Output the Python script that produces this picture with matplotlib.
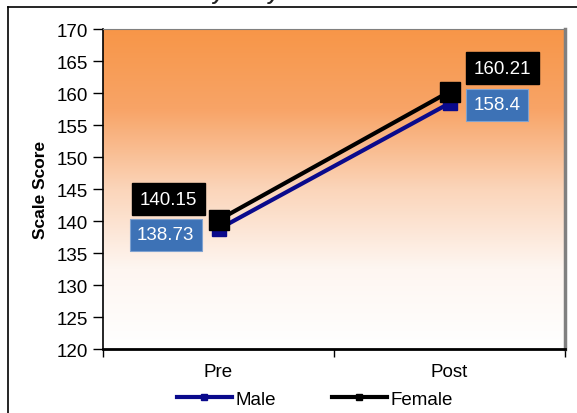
import numpy as np
import matplotlib.pyplot as plt
from matplotlib.colors import LinearSegmentedColormap
from matplotlib.lines import Line2D

plt.rcParams['font.family'] = ['Liberation Sans', 'DejaVu Sans']

# chart data
phases = ['Pre', 'Post']
male_scores = [138.73, 158.4]
female_scores = [140.15, 160.21]
y_ticks = list(range(120, 175, 5))

# label offsets (points) for the value boxes
male_offsets = [(-38, -4), (34, -1)]
female_offsets = [(-36, 15), (38, 17)]

navy = '#0A0A8C'
label_blue = '#3D72B6'

fig = plt.figure(figsize=(5.77, 4.14), dpi=100)

# outer chart frame (only the left and top edges fall inside the image)
fx, fy = 7.5 / 577, 1 - 8 / 414
fig.add_artist(Line2D([fx, fx], [0, fy], transform=fig.transFigure,
                      color='black', linewidth=1.2))
fig.add_artist(Line2D([fx, 1], [fy, fy], transform=fig.transFigure,
                      color='black', linewidth=1.2))

fig.text(0.02, 1.012, 'Gender Pre-Post Analysis by Subtest', fontsize=14,
         fontweight='bold', fontstyle='italic', va='center', ha='left',
         color='#222222')

ax = fig.add_axes([103 / 577, 1 - 350 / 414, 462 / 577, 320 / 414])
ax.set_xlim(0, 2)
ax.set_ylim(120, 170)

# orange-to-white background gradient
grad_cmap = LinearSegmentedColormap.from_list(
    'bg', ['#FFFFFF', '#FEF6F1', '#FBD5BA', '#F8A467', '#F79648'])
grad = np.linspace(0, 1, 256).reshape(-1, 1)
ax.imshow(grad, cmap=grad_cmap, extent=(0, 2, 120, 170), origin='lower',
          aspect='auto', zorder=0)

x = np.arange(len(phases)) + 0.5
ax.plot(x, male_scores, color=navy, linewidth=3, marker='s', markersize=10,
        zorder=3, label='Male')
ax.plot(x, female_scores, color='black', linewidth=3, marker='s',
        markersize=14, zorder=4, label='Female')

for xi, val, off in zip(x, male_scores, male_offsets):
    ax.annotate(f'{val:g}', (xi, val), xytext=off, textcoords='offset points',
                ha='center', va='center', fontsize=13.5, color='white',
                zorder=5,
                bbox=dict(boxstyle='square,pad=0.4', facecolor=label_blue,
                          edgecolor='#7FA2D0', linewidth=0.8))
for xi, val, off in zip(x, female_scores, female_offsets):
    ax.annotate(f'{val:.2f}', (xi, val), xytext=off, textcoords='offset points',
                ha='center', va='center', fontsize=13.5, color='white',
                zorder=6,
                bbox=dict(boxstyle='square,pad=0.4', facecolor='black',
                          edgecolor='black'))

ax.set_yticks(y_ticks)
ax.set_yticklabels([str(t) for t in y_ticks], fontsize=13.5)
ax.set_xticks([0, 1, 2])
ax.set_xticklabels([])
ax.set_xticks(x, minor=True)
ax.set_xticklabels(phases, minor=True, fontsize=13.5)
ax.tick_params(axis='x', which='minor', length=0, pad=10)
ax.tick_params(axis='x', which='major', direction='out', length=6, width=1)
ax.tick_params(axis='y', direction='out', length=7, width=1, pad=4)

ax.spines['left'].set_linewidth(1.2)
ax.spines['bottom'].set_linewidth(2)
ax.spines['top'].set_color('#808080')
ax.spines['right'].set_color('#808080')
ax.spines['right'].set_linewidth(2.5)

ax.set_ylabel('Scale Score', fontsize=12.5, fontweight='bold', labelpad=6)

handles = [
    Line2D([], [], color=navy, linewidth=3, marker='s', markersize=5),
    Line2D([], [], color='black', linewidth=3, marker='s', markersize=5),
]
fig.legend(handles, ['Male', 'Female'], loc='center',
           bbox_to_anchor=(315 / 577, 1 - 400 / 414), ncol=2, frameon=False,
           fontsize=13.5, handlelength=2.9, handletextpad=0.2,
           columnspacing=3.0)

fig.savefig('out.png', dpi=100)
